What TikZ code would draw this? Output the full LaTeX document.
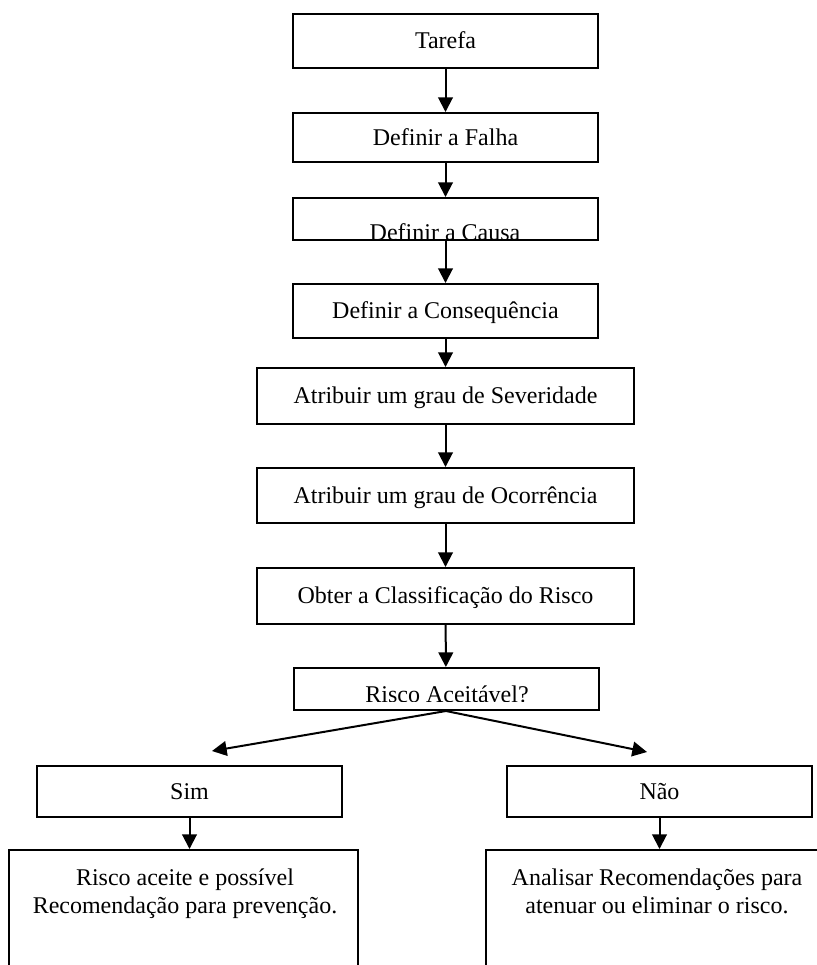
\documentclass[tikz,border=0pt]{standalone}
\usepackage{fontspec}
\setmainfont{Liberation Serif}
\usetikzlibrary{arrows.meta}
\begin{document}
\begin{tikzpicture}[x=0.75pt,y=-0.75pt,
  txt/.style={inner sep=0pt, font=\fontsize{18}{21}\selectfont},
  box/.style={txt, draw, line width=1.5pt, minimum width=228.75pt,
    text height=11.9pt, text depth=0pt},
  widebox/.style={box, minimum width=282.75pt},
  resbox/.style={draw, line width=1.5pt, minimum height=105pt},
  flow/.style={line width=1.5pt, -{Triangle[length=11pt,width=11pt]}}]
\useasboundingbox (0,0) rectangle (817,965);
\clip (0,0) rectangle (817,965);

% main column
\node[box, minimum height=40.5pt]  (tarefa) at (445.5,41)    {Tarefa};
\node[box, minimum height=36.75pt] (falha)  at (445.5,137.5) {Definir a Falha};
\node[box, minimum height=31.5pt]  (causa)  at (445.5,219)   {};
\begin{scope}
  \clip (294,199) rectangle (597,238.5);
  \node[txt, anchor=base] (causatxt) at (445,240) {Definir a Causa};
\end{scope}
\node[box, minimum height=40.5pt]  (conseq) at (445.5,311)   {Definir a Consequência};
\node[widebox, minimum height=42pt]    (sev)   at (445.5,396)   {Atribuir um grau de Severidade};
\node[widebox, minimum height=41.25pt] (ocor)  at (445.5,495.5) {Atribuir um grau de Ocorrência};
\node[widebox, minimum height=42pt]    (obter) at (445.5,596)   {Obter a Classificação do Risco};
\node[box, minimum height=31.5pt]  (aceit)  at (446,689)     {};
\begin{scope}
  \clip (295,669) rectangle (598,701);
  \node[txt, anchor=base] (aceittxt) at (447,702.5) {Risco Aceitável?};
\end{scope}

% decision branches
\node[box, minimum height=38.25pt] (sim) at (189.5,791.5) {Sim};
\node[box, minimum height=38.25pt] (nao) at (659.5,791.5) {Não};

% result boxes (run past the lower edge)
\node[resbox, minimum width=261.75pt] (lres) at (183.5,920) {};
\node[resbox, minimum width=256.5pt]  (rres) at (657,920) {};
\node[txt, align=center, anchor=base] (ltext) at (185,913)
  {Risco aceite e possível\\Recomendação para prevenção.};
\node[txt, align=center, anchor=base] (rtext) at (657,913)
  {Analisar Recomendações para\\atenuar ou eliminar o risco.};

% connectors
\draw[flow] (tarefa) -- (falha);
\draw[flow] (falha) -- (causa);
\draw[flow] (causa) -- (conseq);
\draw[flow] (conseq) -- (sev);
\draw[flow] (sev) -- (ocor);
\draw[flow] (ocor) -- (obter);
\draw[flow] (obter) -- (aceit);
\coordinate (simtip) at (212,751);
\coordinate (naotip) at (647,752);
\draw[flow] (aceit.south) -- (simtip);
\draw[flow] (aceit.south) -- (naotip);
\draw[flow] (sim.south) -- (sim.south |- lres.north);
\draw[flow] (nao.south) -- (nao.south |- rres.north);
\end{tikzpicture}
\end{document}
